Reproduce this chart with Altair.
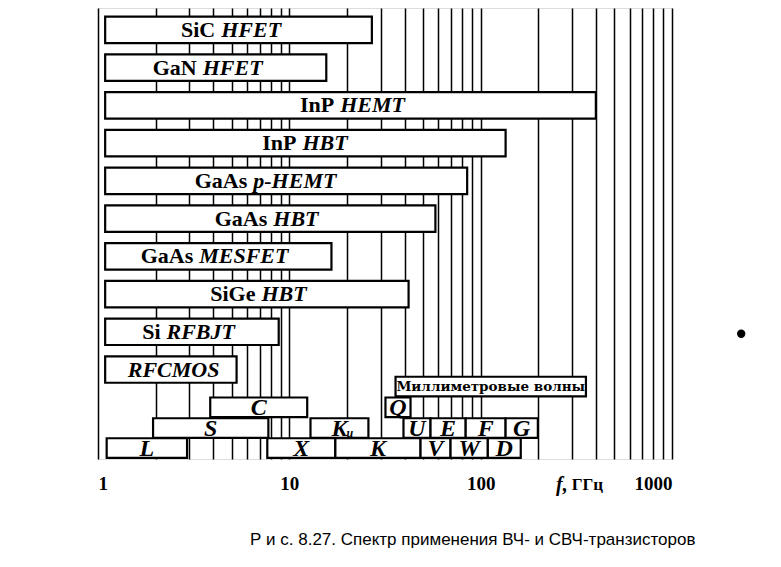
import altair as alt
import pandas as pd

# ---------------- data ----------------
materials = ["SiC", "GaN", "InP", "InP", "GaAs", "GaAs", "GaAs", "SiGe", "Si", ""]
dev_types = ["HFET", "HFET", "HEMT", "HBT", "p-HEMT", "HBT", "MESFET", "HBT", "RFBJT", "RFCMOS"]
dev_row = [0, 1, 2, 3, 4, 5, 6, 7, 8, 9]
dev_fmin = [1.09, 1.09, 1.09, 1.09, 1.09, 1.09, 1.09, 1.09, 1.09, 1.09]
dev_fmax = [27.0, 15.6, 400.0, 135.0, 85.0, 58.0, 16.6, 42.0, 8.8, 5.3]
label_split = [4.25, 3.4, 17.8, 11.3, 6.25, 7.95, 3.26, 6.9, 2.2, 1.38]

band_names = ["Миллиметровые волны", "C", "Q", "S", "K", "U", "E", "F", "G",
              "L", "X", "K", "V", "W", "D"]
band_sub = ["", "", "", "", "u", "", "", "", "", "", "", "", "", "", ""]
band_lo = [35.9, 3.86, 31.8, 1.94, 12.9, 39.5, 54.7, 83.5, 135.0,
           1.11, 7.67, 17.4, 48.5, 69.6, 109.0]
band_hi = [355.0, 12.4, 43.0, 7.77, 25.9, 54.7, 83.5, 135.0, 199.0,
           2.92, 17.4, 48.5, 69.6, 109.0, 162.0]
band_lane = [9.45, 10.0, 10.0, 10.55, 10.55, 10.55, 10.55, 10.55, 10.55,
             11.08, 11.08, 11.08, 11.08, 11.08, 11.08]

grid_ticks = [1, 2, 3, 4, 5, 6, 7, 8, 9,
              10, 20, 30, 40, 50, 60, 70, 80, 90,
              100, 200, 300, 400, 500, 600, 700, 800, 900, 1000]
tick_labels = [1, 10, 100, 1000]

unit_at = [285]
dot_f = [2300]
dot_row = [8.05]

caption = "Р и с. 8.27. Спектр применения ВЧ- и СВЧ-транзисторов"

# ---------------- tables ----------------
dev = pd.DataFrame({"mat": materials, "typ": dev_types, "row": dev_row,
                    "f0": dev_fmin, "f1": dev_fmax, "split": label_split})
bands = pd.DataFrame({"name": band_names, "sub": band_sub, "lo": band_lo,
                      "hi": band_hi, "lane": band_lane})
dots = pd.DataFrame({"f": dot_f, "row": dot_row})
unit = pd.DataFrame({"f": unit_at})

W, H = 574, 451
SERIF = "Liberation Serif"

xscale = alt.Scale(type="log", domain=[1, 1000], nice=False)
yscale = alt.Scale(domain=[-0.58, 11.37], reverse=True)

label_test = " || ".join(f"datum.value == {v}" for v in tick_labels)
xaxis = alt.Axis(values=grid_ticks, grid=True, gridColor="black", gridWidth=1.5,
                 gridOpacity=1, ticks=False, domain=False,
                 labelExpr=f"({label_test}) ? format(datum.value, 'd') : ''",
                 labelFlush=True, labelFont=SERIF, labelFontSize=19,
                 labelFontWeight="bold", labelColor="black", labelPadding=15,
                 title=None)

dev_base = alt.Chart(dev).transform_calculate(
    top="datum.row - 0.35", bot="datum.row + 0.35")

dev_bars = dev_base.mark_rect(fill="white", stroke="black", strokeWidth=2.2).encode(
    x=alt.X("f0:Q", scale=xscale, axis=xaxis),
    x2="f1:Q",
    y=alt.Y("top:Q", scale=yscale, axis=None),
    y2="bot:Q",
)

dev_mat = dev_base.mark_text(align="right", baseline="middle", dx=-3, font=SERIF,
                             fontSize=22, fontWeight="bold", color="black").encode(
    x=alt.X("split:Q", scale=xscale),
    y=alt.Y("row:Q", scale=yscale),
    text="mat:N",
)

dev_typ = dev_base.mark_text(align="left", baseline="middle", dx=3, font=SERIF,
                             fontSize=22, fontWeight="bold", fontStyle="italic",
                             color="black").encode(
    x=alt.X("split:Q", scale=xscale),
    y=alt.Y("row:Q", scale=yscale),
    text="typ:N",
)

band_base = alt.Chart(bands).transform_calculate(
    top="datum.lane - 0.26", bot="datum.lane + 0.26",
    mid="sqrt(datum.lo * datum.hi)")

band_rects = band_base.mark_rect(fill="white", stroke="black", strokeWidth=2.2).encode(
    x=alt.X("lo:Q", scale=xscale),
    x2="hi:Q",
    y=alt.Y("top:Q", scale=yscale),
    y2="bot:Q",
)

band_letters = band_base.transform_filter("length(datum.name) < 3").mark_text(
    align="center", baseline="middle", font=SERIF, fontSize=24, fontWeight="bold",
    fontStyle="italic", color="black", dy=1).encode(
    x=alt.X("mid:Q", scale=xscale),
    y=alt.Y("lane:Q", scale=yscale),
    text="name:N",
)

band_subs = band_base.transform_filter("datum.sub != ''").mark_text(
    align="left", baseline="middle", font=SERIF, fontSize=12, fontStyle="italic",
    fontWeight="bold", color="black", dx=7, dy=5).encode(
    x=alt.X("mid:Q", scale=xscale),
    y=alt.Y("lane:Q", scale=yscale),
    text="sub:N",
)

band_long = band_base.transform_filter("length(datum.name) >= 3").mark_text(
    align="center", baseline="middle", font="DejaVu Serif", fontSize=13.5,
    fontWeight="bold", color="black").encode(
    x=alt.X("mid:Q", scale=xscale),
    y=alt.Y("lane:Q", scale=yscale),
    text="name:N",
)

f_lbl = alt.Chart(unit).mark_text(
    align="right", baseline="middle", font=SERIF, fontSize=20, fontStyle="italic",
    fontWeight="bold", color="black").encode(
    x=alt.X("f:Q", scale=xscale), y=alt.value(H + 26), text=alt.value("f,"))

ghz_lbl = alt.Chart(unit).mark_text(
    align="left", baseline="middle", font=SERIF, fontSize=17,
    fontWeight="bold", color="black", dx=4).encode(
    x=alt.X("f:Q", scale=xscale), y=alt.value(H + 26), text=alt.value("ГГц"))

dot = alt.Chart(dots).mark_circle(color="black", opacity=1, size=70).encode(
    x=alt.X("f:Q", scale=xscale), y=alt.Y("row:Q", scale=yscale))

chart = alt.layer(
    dev_bars, dev_mat, dev_typ, band_rects, band_letters, band_subs, band_long,
    f_lbl, ghz_lbl, dot
).properties(
    width=W, height=H,
    padding={"left": 90, "top": 0, "right": 5, "bottom": 5},
    title=alt.TitleParams(caption, orient="bottom", anchor="start", dx=152,
                          offset=37, font="Liberation Sans", fontSize=17,
                          fontWeight="normal", color="black"),
).configure_view(stroke="black", strokeWidth=2.5).configure(background="white")

chart.save("out.html", embed_options={"renderer": "svg", "actions": False})
